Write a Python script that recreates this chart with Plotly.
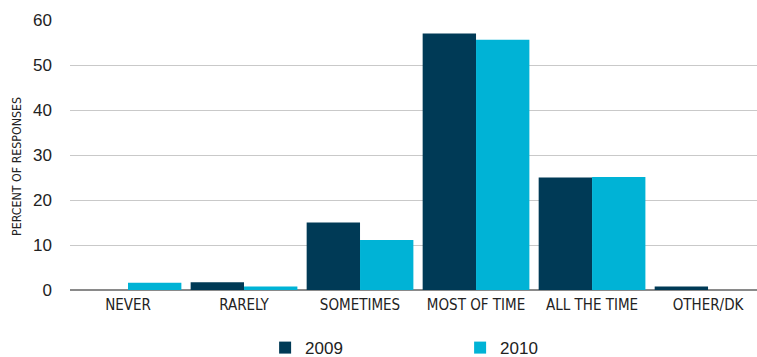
import plotly.graph_objects as go

# Survey response frequency, share of respondents per answer
categories = ["NEVER", "RARELY", "SOMETIMES", "MOST OF TIME", "ALL THE TIME", "OTHER/DK"]
values_2009 = [0, 1.7, 15.0, 57.0, 25.0, 0.8]
values_2010 = [1.6, 0.8, 11.1, 55.6, 25.1, 0]
y_ticks = [0, 10, 20, 30, 40, 50, 60]

NAVY = "#003a56"
CYAN = "#00b3d6"
LABEL_FONT = "DejaVu Sans Condensed, Liberation Sans Narrow, sans-serif"

fig = go.Figure()
fig.add_trace(go.Bar(name="2009", x=categories, y=values_2009, marker_color=NAVY,
                     marker_line_width=0))
fig.add_trace(go.Bar(name="2010", x=categories, y=values_2010, marker_color=CYAN,
                     marker_line_width=0))

fig.update_layout(
    width=757, height=357,
    margin=dict(l=70, r=0, t=20, b=67, autoexpand=False),
    paper_bgcolor="white", plot_bgcolor="white",
    barmode="group", bargap=0.08, bargroupgap=0,
    showlegend=True,
    legend=dict(
        orientation="h", x=0.284, xanchor="left", y=-0.215, yanchor="middle",
        entrywidth=150, entrywidthmode="pixels",
        font=dict(family="Liberation Sans, Arial, sans-serif", size=17, color="#222"),
        itemclick=False,
    ),
    xaxis=dict(
        range=[-0.5, 5.422],
        tickfont=dict(family=LABEL_FONT, size=15, color="#222"),
        ticklabelstandoff=4,
        showgrid=False, showline=False, ticks="",
    ),
    yaxis=dict(
        range=[0, 60], tickvals=y_ticks,
        tickfont=dict(family="Liberation Sans, Arial, sans-serif", size=17, color="#222"),
        ticklabelstandoff=17,
        showgrid=True, gridcolor="#c9c9c9", gridwidth=1,
        zeroline=True, zerolinecolor="#8a8a8a", zerolinewidth=2,
    ),
    annotations=[dict(
        text="PERCENT OF RESPONSES", textangle=-90, showarrow=False,
        xref="paper", yref="paper", x=-0.0771, y=0.456,
        xanchor="center", yanchor="middle",
        font=dict(family=LABEL_FONT, size=12.3, color="#222"),
    )],
)

fig.write_html("out.html")
